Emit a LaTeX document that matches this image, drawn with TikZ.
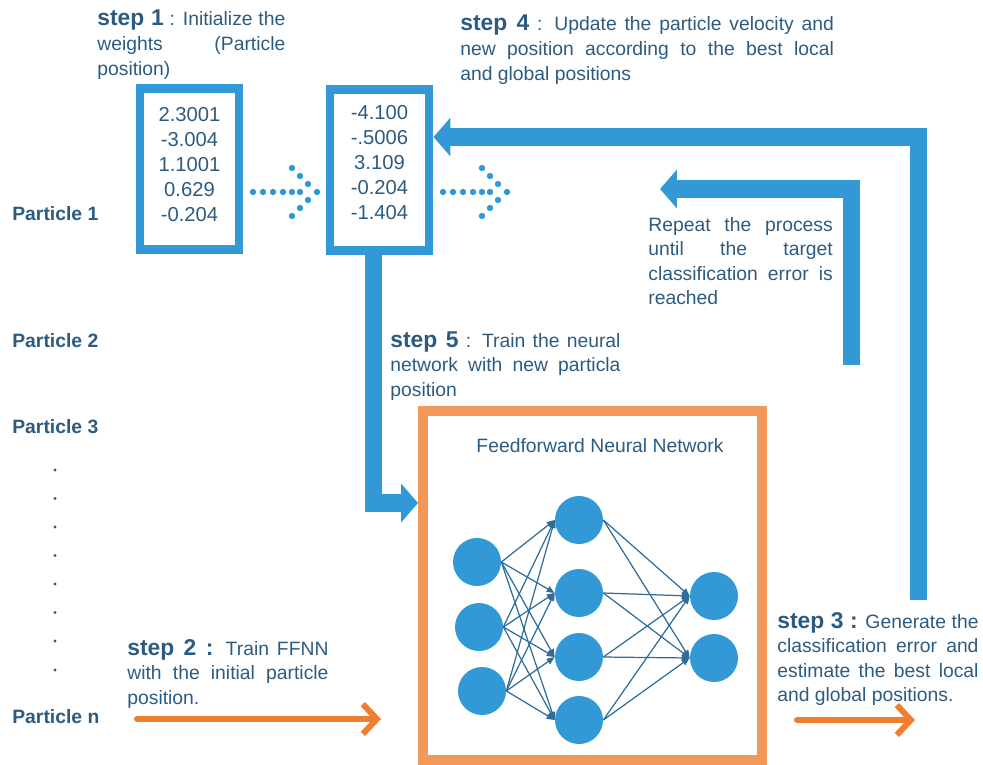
\documentclass[tikz,border=0pt]{standalone}
\usepackage{fontspec}
\setmainfont{Liberation Sans}
\usetikzlibrary{arrows.meta}
\definecolor{psoblue}{HTML}{3399D6}
\definecolor{inkblue}{HTML}{2D5B80}
\definecolor{edgeblue}{HTML}{2F6C98}
\definecolor{frameorange}{HTML}{F4985A}
\definecolor{arroworange}{HTML}{EF7F2E}

\begin{document}
\begin{tikzpicture}[x=0.02cm,y=-0.02cm,
  steptext/.style={text=inkblue,font=\fontsize{11}{14}\selectfont,inner sep=0pt,anchor=base west,align=justify,
    execute at begin node={\hyphenpenalty=10000\exhyphenpenalty=10000\tolerance=9999}},
  particle/.style={text=inkblue,font=\fontsize{11}{14}\selectfont\bfseries,inner sep=0pt,anchor=base west},
  numframe/.style={draw=psoblue,line width=5.1pt,minimum width=1.98cm,minimum height=3.22cm,inner sep=0pt},
  numtext/.style={text=inkblue,font=\fontsize{11.5}{14.2}\selectfont,align=center,inner sep=0pt,anchor=base},
  bigarrow/.style={draw=psoblue,line width=10.2pt,line join=miter,-{Triangle[length=9.6pt,width=21.5pt]}},
  neuron/.style={circle,fill=psoblue,minimum size=0.96cm,inner sep=0pt},
  link/.style={draw=edgeblue,line width=0.7pt,-{Triangle[length=4.5pt,width=3.6pt]}},
  orangearrow/.style={draw=arroworange,line width=3.4pt,line cap=round,-{Straight Barb[length=8pt,width=17pt]}}
]
\useasboundingbox (0,0) rectangle (983,764);

\newcommand{\stepword}[1]{{\fontsize{13}{14}\selectfont\bfseries #1}}

\node[steptext,text width=107pt] (step1) at (97,26) {\stepword{step 1} : Initialize the\linebreak weights (Particle\linebreak position)};
\node[steptext,text width=212.6pt] (step4) at (460,31) {\stepword{step 4} : Update the particle velocity and\linebreak new position according to the best local\linebreak and global positions};
\node[steptext,text width=105pt] (repeat) at (648,231) {Repeat the process\linebreak until the target\linebreak classification error is\linebreak reached};
\node[steptext,text width=131pt] (step5) at (390,347) {\stepword{step 5} : Train the neural\linebreak network with new particla\linebreak position};
\node[steptext,text width=114.5pt] (step2) at (127,655) {\stepword{step 2 :} Train FFNN\linebreak with the initial particle\linebreak position.};
\node[steptext,text width=114.5pt] (step3) at (777,628) {\stepword{step 3 :} Generate the\linebreak classification error and\linebreak estimate the best local\linebreak and global positions.};

\node[particle] (p1) at (12,220) {Particle 1};
\node[particle] (p2) at (12,347) {Particle 2};
\node[particle] (p3) at (12,433) {Particle 3};
\node[particle] (pn) at (12,723) {Particle n};
\foreach \vy in {470,498.5,527,555.5,584,612.5,641,670}
  \fill[inkblue] (55,\vy) circle[radius=1.7];

\node[numframe] (box1) at (189.5,169) {};
\node[numtext] (w1) at (189.5,221) {2.3001\\-3.004\\1.1001\\0.629\\-0.204};
\node[numframe] (box2) at (379.5,170) {};
\node[numtext] (w2) at (379.5,219) {-4.100\\-.5006\\3.109\\-0.204\\-1.404};

\foreach \dx in {0,190}
  \foreach \px/\py in {253/192,263/192,273/192,283/192,292/192,300/192,317/192,292/168,300/176,308/184,308/200,300/208,292/216}
    \fill[psoblue] (\px+\dx,\py) circle[radius=3.2];

\node[draw=frameorange,line width=5.7pt,minimum width=6.78cm,minimum height=6.98cm,inner sep=0pt] (ffnn) at (592.5,585.5) {};
\node[text=inkblue,font=\fontsize{11}{14}\selectfont,inner sep=0pt,anchor=base] (title) at (600,452) {Feedforward Neural Network};

\node[neuron] (i1) at (477,562) {};
\node[neuron] (i2) at (479,627) {};
\node[neuron] (i3) at (482,691) {};
\node[neuron] (h1) at (579,520) {};
\node[neuron] (h2) at (579,593) {};
\node[neuron] (h3) at (579,657) {};
\node[neuron] (h4) at (579,720) {};
\node[neuron] (o1) at (714,596) {};
\node[neuron] (o2) at (714,658) {};
\foreach \i in {1,2,3}
  \foreach \h in {1,...,4}
    \draw[link] (i\i.east) -- (h\h.west);
\foreach \h in {1,...,4}
  \foreach \o in {1,2}
    \draw[link] (h\h.east) -- (o\o.west);

\draw[bigarrow] ([xshift=-0.12cm]box2.south) |- ([yshift=1.65cm]ffnn.west);
\coordinate (loopA) at (918.5,600);
\draw[bigarrow] (loopA) |- ([yshift=0.66cm]box2.east);
\coordinate (repS) at (851.5,365);
\coordinate (repT) at (660,189);
\draw[bigarrow] (repS) |- (repT);

\coordinate (s2a) at (137,719);
\coordinate (s2b) at (381,719);
\draw[orangearrow] (s2a) -- (s2b);
\coordinate (s3a) at (797,720);
\coordinate (s3b) at (915,720);
\draw[orangearrow] (s3a) -- (s3b);
\end{tikzpicture}
\end{document}
